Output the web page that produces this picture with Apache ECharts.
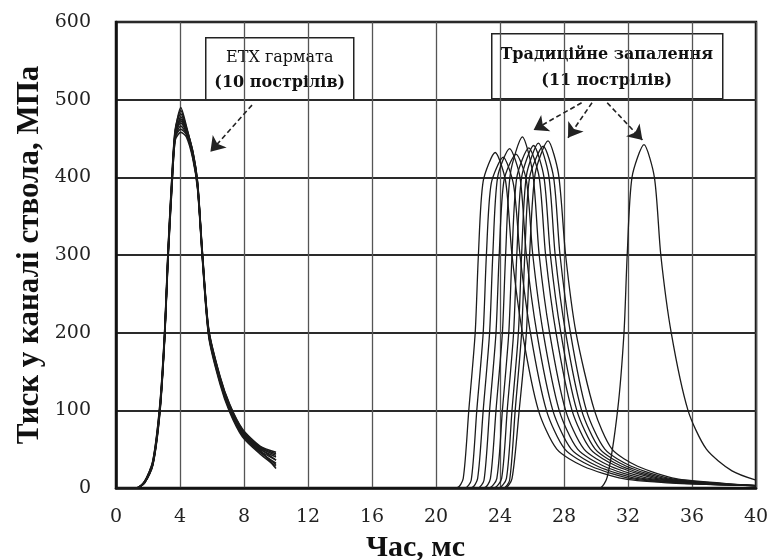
<!DOCTYPE html>
<html>
<head>
<meta charset="utf-8">
<script src="https://cdn.jsdelivr.net/npm/echarts@6/dist/echarts.min.js"></script>
<style>
  html, body { margin: 0; padding: 0; background: #fff; }
  #chart { width: 772px; height: 560px; }
</style>
</head>
<body>
<div id="chart"></div>
<script>
// ETX гармата: 10 пострілів, спільна шкала часу
const etxTime = [0, 1.3, 1.8, 2.3, 2.75, 3.05, 3.25, 3.5, 3.7, 4.05, 4.4, 4.8, 5.1, 5.4, 5.8, 6.5, 7.1, 7.9, 9.0, 10]
const etx1 = [0, 0, 8, 32, 104, 200, 300, 397, 458, 490, 466, 432, 392, 302, 202, 142, 106, 74, 52, 42]
const etx2 = [0, 0, 7, 30, 100, 196, 294, 390, 450, 478, 460, 428, 388, 298, 198, 138, 102, 70, 48, 36]
const etx3 = [0, 0, 9, 34, 108, 205, 305, 400, 455, 470, 458, 426, 386, 296, 196, 136, 100, 68, 46, 32]
const etx4 = [0, 0, 8, 31, 102, 198, 297, 394, 452, 462, 455, 430, 390, 300, 200, 140, 104, 72, 50, 40]
const etx5 = [0, 0, 8, 33, 106, 203, 303, 402, 460, 482, 463, 434, 394, 304, 204, 144, 108, 76, 54, 46]
const etx6 = [0, 0, 7, 29, 98, 194, 292, 388, 448, 458, 452, 424, 384, 294, 194, 134, 98, 66, 44, 28]
const etx7 = [0, 0, 8, 32, 104, 200, 300, 396, 456, 475, 461, 431, 391, 301, 201, 141, 105, 73, 51, 36]
const etx8 = [0, 0, 9, 35, 110, 207, 307, 404, 462, 486, 464, 433, 393, 303, 203, 143, 107, 75, 53, 44]
const etx9 = [0, 0, 7, 30, 101, 197, 296, 392, 451, 466, 456, 427, 387, 297, 197, 137, 101, 69, 47, 30]
const etx10 = [0, 0, 8, 31, 103, 199, 299, 395, 454, 473, 459, 429, 389, 299, 199, 139, 103, 71, 49, 25]

// Традиційне запалення: 11 пострілів, пари [час, тиск]
const trad1 = [[20, 0], [21.3, 0], [21.7, 12], [22.05, 100], [22.45, 200], [22.65, 300], [22.95, 395], [23.7, 432], [24.35, 395], [24.75, 300], [25.4, 200], [26.4, 100], [27.55, 50], [29.2, 28], [31.7, 12], [35, 6], [40, 3]]
const trad2 = [[20, 0], [21.8, 0], [22.2, 10], [22.55, 100], [22.95, 200], [23.15, 300], [23.45, 392], [24.2, 426], [24.85, 390], [25.25, 300], [25.9, 200], [26.9, 100], [28.05, 50], [29.7, 28], [32.2, 12], [35.5, 6], [40, 3]]
const trad3 = [[20, 0], [22.2, 0], [22.6, 12], [22.95, 100], [23.35, 200], [23.55, 300], [23.85, 400], [24.6, 437], [25.25, 400], [25.65, 300], [26.3, 200], [27.3, 100], [28.45, 50], [30.1, 28], [32.6, 12], [36, 6], [40, 3]]
const trad4 = [[20, 0], [22.6, 0], [23.0, 10], [23.35, 100], [23.75, 200], [23.95, 300], [24.25, 396], [25.0, 430], [25.65, 396], [26.05, 300], [26.7, 200], [27.7, 100], [28.85, 50], [30.5, 28], [33, 12], [36.3, 6], [40, 3]]
const trad5 = [[20, 0], [23.0, 0], [23.4, 12], [23.75, 100], [24.15, 200], [24.35, 300], [24.65, 405], [25.4, 452], [26.05, 405], [26.45, 300], [27.1, 200], [28.1, 100], [29.25, 50], [30.9, 28], [33.4, 12], [36.6, 6], [40, 3]]
const trad6 = [[20, 0], [23.3, 0], [23.8, 12], [24.15, 100], [24.55, 200], [24.75, 300], [25.05, 400], [25.8, 438], [26.45, 400], [26.85, 300], [27.5, 200], [28.5, 100], [29.65, 50], [31.3, 28], [33.8, 12], [37, 6], [40, 3]]
const trad7 = [[20, 0], [23.6, 0], [24.1, 12], [24.45, 100], [24.85, 200], [25.05, 300], [25.35, 400], [26.1, 441], [26.75, 400], [27.15, 300], [27.8, 200], [28.8, 100], [29.95, 50], [31.6, 28], [34.1, 12], [37.2, 6], [40, 3]]
const trad8 = [[20, 0], [23.9, 0], [24.4, 12], [24.75, 100], [25.15, 200], [25.35, 300], [25.65, 402], [26.4, 444], [27.05, 402], [27.45, 300], [28.1, 200], [29.1, 100], [30.25, 50], [31.9, 28], [34.4, 12], [37.5, 6], [40, 3]]
const trad9 = [[20, 0], [24.2, 0], [24.6, 10], [24.95, 100], [25.35, 200], [25.55, 300], [25.85, 400], [26.7, 440], [27.35, 400], [27.75, 300], [28.4, 200], [29.4, 100], [30.55, 50], [32.2, 28], [34.7, 12], [37.7, 6], [40, 3]]
const trad10 = [[20, 0], [24.3, 0], [24.75, 12], [25.2, 100], [25.65, 200], [25.85, 300], [26.2, 405], [27.0, 447], [27.65, 405], [28.1, 300], [28.75, 200], [29.9, 100], [31.0, 50], [32.6, 28], [35, 12], [38, 6], [40, 3]]
const trad11 = [[20, 0], [30.2, 0], [30.7, 14], [31.35, 100], [31.75, 200], [31.95, 300], [32.25, 400], [33.0, 442], [33.65, 400], [34.05, 300], [34.7, 200], [35.75, 100], [36.9, 50], [38.5, 22], [40, 10]]

// Стрілки-вказівники [від, до] у координатах даних
const etxArrows = [[[8.5, 493], [5.9, 433]]]
const tradArrows = [
  [[29.1, 496], [26.1, 461]],
  [[29.75, 496], [28.25, 451]],
  [[30.7, 496], [32.9, 448]]
]

const xTicks = [0, 4, 8, 12, 16, 20, 24, 28, 32, 36, 40]
const yTicks = [0, 100, 200, 300, 400, 500, 600]

const etxShots = [etx1, etx2, etx3, etx4, etx5, etx6, etx7, etx8, etx9, etx10]
const tradShots = [trad1, trad2, trad3, trad4, trad5, trad6, trad7, trad8, trad9, trad10, trad11]

const chart = echarts.init(document.getElementById('chart'))

const curve = (data, w) => ({
  type: 'line',
  data,
  showSymbol: false,
  smooth: 0.25,
  lineStyle: { color: '#1b1b1b', width: w },
  silent: true,
  z: 3
})

const arrows = (list) => ({
  type: 'lines',
  coordinateSystem: 'cartesian2d',
  data: list.map(c => ({ coords: c })),
  symbol: ['none', 'arrow'],
  symbolSize: 14,
  lineStyle: { color: '#222', width: 1.6, type: [5, 3], opacity: 1 },
  silent: true,
  z: 4
})

const series = [
  ...etxShots.map(s => curve(s.map((v, i) => [etxTime[i], v]), 1.5)),
  ...tradShots.map(s => curve(s, 1.3)),
  arrows(etxArrows),
  arrows(tradArrows)
]

const serif = '"Liberation Serif", "Times New Roman", serif'
const boxFont = '"DejaVu Serif", serif'

chart.setOption({
  animation: false,
  backgroundColor: '#fff',
  grid: {
    left: 116, right: 16, top: 22, bottom: 72,
    show: true, borderColor: '#111', borderWidth: 2.5
  },
  xAxis: {
    type: 'value',
    min: 0, max: 40, interval: 4,
    axisLine: { show: true, lineStyle: { color: '#111', width: 2.5 } },
    axisTick: { show: false },
    axisLabel: {
      margin: 20,
      fontFamily: '"DejaVu Serif", serif',
      fontSize: 19,
      color: '#222',
      formatter: v => xTicks.includes(v) ? String(v) : ''
    },
    splitLine: { show: true, lineStyle: { color: '#555', width: 1.3 } }
  },
  yAxis: {
    type: 'value',
    min: 0, max: 600, interval: 100,
    axisLine: { show: true, lineStyle: { color: '#111', width: 2.5 } },
    axisTick: { show: false },
    axisLabel: {
      margin: 25,
      fontFamily: '"DejaVu Serif", serif',
      fontSize: 19,
      color: '#222',
      formatter: v => yTicks.includes(v) ? String(v) : ''
    },
    splitLine: { show: true, lineStyle: { color: '#2a2a2a', width: 2 } }
  },
  graphic: [
    {
      type: 'text',
      left: 366, top: 533,
      style: { text: 'Час, мс', font: 'bold 30px ' + serif, fill: '#111' }
    },
    {
      type: 'text',
      x: 30, y: 255,
      rotation: Math.PI / 2,
      originX: 0, originY: 0,
      style: {
        text: 'Тиск у каналі ствола, МПа',
        font: 'bold 31px ' + serif,
        fill: '#111',
        align: 'center',
        verticalAlign: 'middle'
      }
    },
    {
      type: 'group',
      left: 205, top: 37,
      z: 10,
      children: [
        { type: 'rect', shape: { x: 0, y: 0, width: 148, height: 62 },
          style: { fill: '#fff', stroke: '#222', lineWidth: 1.5 } },
        { type: 'text', x: 74, y: 20,
          style: { text: 'ETX гармата', font: '16px ' + boxFont, fill: '#111', align: 'center', verticalAlign: 'middle' } },
        { type: 'text', x: 74, y: 45,
          style: { text: '(10 пострілів)', font: 'bold 16px ' + boxFont, fill: '#111', align: 'center', verticalAlign: 'middle' } }
      ]
    },
    {
      type: 'group',
      left: 491, top: 33,
      z: 10,
      children: [
        { type: 'rect', shape: { x: 0, y: 0, width: 231, height: 65 },
          style: { fill: '#fff', stroke: '#222', lineWidth: 1.5 } },
        { type: 'text', x: 115, y: 21,
          style: { text: 'Традиційне запалення', font: 'bold 16px ' + boxFont, fill: '#111', align: 'center', verticalAlign: 'middle' } },
        { type: 'text', x: 115, y: 47,
          style: { text: '(11 пострілів)', font: 'bold 16px ' + boxFont, fill: '#111', align: 'center', verticalAlign: 'middle' } }
      ]
    }
  ],
  series
})
</script>
</body>
</html>
